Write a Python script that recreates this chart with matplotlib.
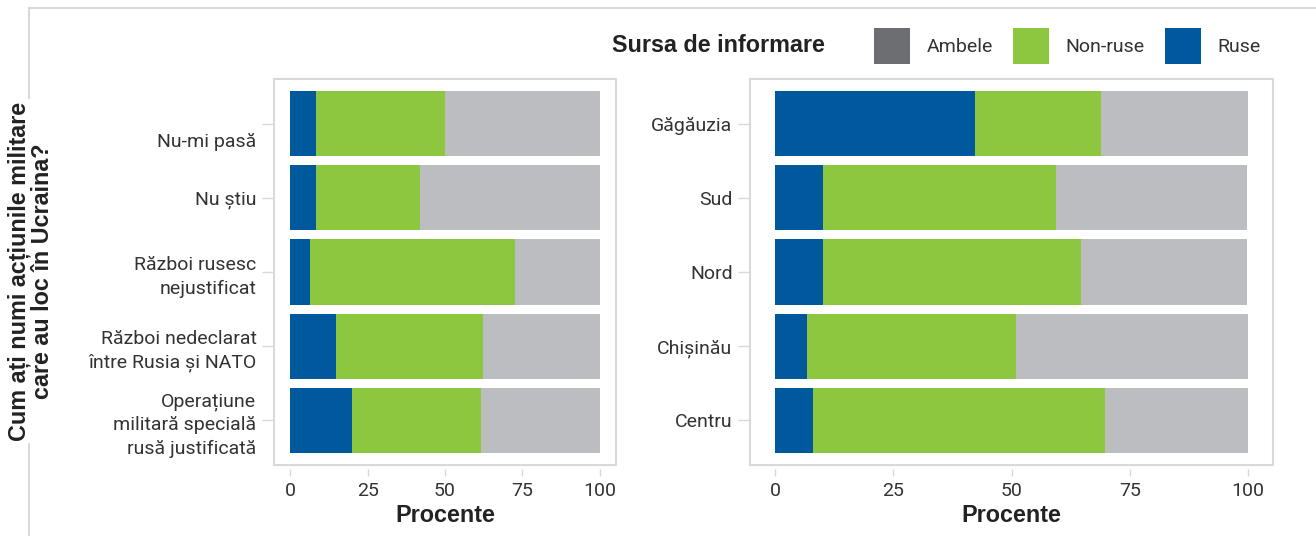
import matplotlib
matplotlib.use("Agg")
import matplotlib.pyplot as plt
from matplotlib.patches import Patch, Rectangle
from matplotlib.transforms import ScaledTranslation

# left panel: how respondents call the military actions
left_labels = ["Nu-mi pasă", "Nu știu", "Război rusesc\nnejustificat",
               "Război nedeclarat\nîntre Rusia și NATO",
               "Operațiune\nmilitară specială\nrusă justificată"]
left_ruse = [8.4, 8.4, 6.2, 14.9, 19.8]
left_nonruse = [41.6, 33.5, 66.5, 47.4, 41.9]
left_ambele = [50.0, 58.1, 27.3, 37.7, 38.3]

# right panel: regions
right_labels = ["Găgăuzia", "Sud", "Nord", "Chișinău", "Centru"]
right_ruse = [42.2, 10.1, 10.1, 6.8, 8.0]
right_nonruse = [26.7, 49.3, 54.5, 44.1, 61.7]
right_ambele = [31.1, 40.5, 35.3, 49.1, 30.3]

series_names = ["Ambele", "Non-ruse", "Ruse"]

BLUE = "#00599c"
GREEN = "#8dc63f"
GRAY = "#bcbdc0"
GRAY_KEY = "#6d6e71"
FRAME = "#d9d9d9"
TXT = "#333333"
NARROW = ["Roboto", "DejaVu Sans"]
BOLD = ["Liberation Sans", "DejaVu Sans"]

W, H = 1316, 536
fig = plt.figure(figsize=(W / 100, H / 100), dpi=100)

def box(x0, y0, x1, y1):
    return [x0 / W, 1 - y1 / H, (x1 - x0) / W, (y1 - y0) / H]

# outer frame
fig.patches.append(Rectangle((29 / W, -0.1), 1.1, 1 - 8 / H + 0.1,
                             transform=fig.transFigure, fill=False,
                             edgecolor=FRAME, linewidth=1.5, zorder=0))

def draw_panel(ax, labels, ruse, nonruse, ambele):
    for s in ax.spines.values():
        s.set_visible(False)
    ax.spines["bottom"].set_position(("outward", 3))
    y = list(range(len(labels), 0, -1))
    left2 = [r + n for r, n in zip(ruse, nonruse)]
    ax.barh(y, ruse, height=0.88, color=BLUE)
    ax.barh(y, nonruse, left=ruse, height=0.88, color=GREEN)
    ax.barh(y, ambele, left=left2, height=0.88, color=GRAY)
    ax.set_xlim(-5.3, 105.3)
    ax.set_ylim(0.4, len(labels) + 0.6)
    ax.set_yticks(y)
    ax.set_yticklabels(labels, fontsize=14, color=TXT, family=NARROW, linespacing=1.4)
    ax.set_xticks([0, 25, 50, 75, 100])
    ax.set_xticklabels(["0", "25", "50", "75", "100"], fontsize=14, color=TXT,
                       family=NARROW)
    ax.tick_params(axis="y", length=8.6, width=1, color=FRAME, pad=4)
    ax.tick_params(axis="x", length=5, width=1, color=FRAME, pad=4)
    ax.set_xlabel("Procente", fontsize=16.8, fontweight="bold", color="#222222",
                  family=BOLD, labelpad=3)
    ax.add_patch(Rectangle((0, 0), 1, 1, transform=ax.transAxes, fill=False,
                           edgecolor=FRAME, linewidth=1.5, clip_on=False))

ax1 = fig.add_axes(box(274, 79, 616, 465))
draw_panel(ax1, left_labels, left_ruse, left_nonruse, left_ambele)
# the first label sits a little below its tick in the original
lab = ax1.get_yticklabels()[0]
lab.set_transform(lab.get_transform() + ScaledTranslation(0, -0.16, fig.dpi_scale_trans))

ax2 = fig.add_axes(box(750, 79, 1273, 465))
draw_panel(ax2, right_labels, right_ruse, right_nonruse, right_ambele)

fig.text(31 / W, 1 - 271 / H, "Cum ați numi acțiunile militare\ncare au loc în Ucraina?",
         rotation=90, ha="center", va="center", fontsize=16.8, fontweight="bold",
         color="#222222", family=BOLD, linespacing=1.0,
         bbox=dict(facecolor="white", edgecolor="none", pad=2))

# legend
fig.text(612 / W, 1 - 45 / H, "Sursa de informare", ha="left", va="center",
         fontsize=16.8, fontweight="bold", color="#222222", family=BOLD)
handles = [Patch(facecolor=c, edgecolor="none") for c in [GRAY_KEY, GREEN, BLUE]]
leg = fig.legend(handles, series_names, loc="center left",
                 bbox_to_anchor=(874 / W, 1 - 46 / H), ncol=3, frameon=False,
                 handlelength=1.85, handleheight=2.45, handletextpad=0.85,
                 columnspacing=1.05, borderpad=0, borderaxespad=0,
                 prop={"family": NARROW, "size": 14})
for t in leg.get_texts():
    t.set_color(TXT)

fig.savefig("out.png", dpi=100)
